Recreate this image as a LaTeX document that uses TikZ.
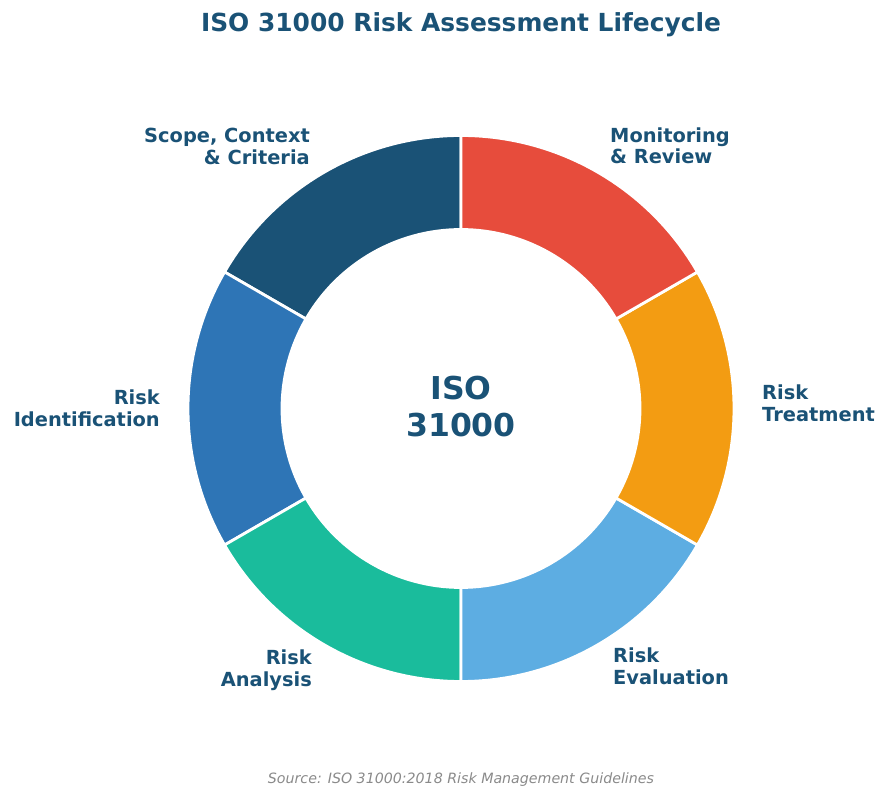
\documentclass[tikz,border=0pt]{standalone}
\usepackage{fontspec}
\setmainfont{DejaVu Sans}[BoldFont={DejaVu Sans Bold},ItalicFont={DejaVu Sans Oblique}]
\definecolor{tdark}{HTML}{1A5276}
\definecolor{sdark}{HTML}{1A5276}
\definecolor{sred}{HTML}{E74C3C}
\definecolor{sorange}{HTML}{F39C12}
\definecolor{slight}{HTML}{5DADE2}
\definecolor{sgreen}{HTML}{1ABC9C}
\definecolor{sblue}{HTML}{2E75B6}
\definecolor{srcgray}{HTML}{8A8A8A}
\tikzset{
  seg/.style={draw=white, line width=2.8pt},
  lbl/.style={inner sep=0pt, text=tdark, font=\fontsize{19.4}{22}\selectfont\bfseries},
  ctr/.style={inner sep=0pt, text=tdark, font=\fontsize{31.5}{36}\selectfont\bfseries},
}
\newcommand{\ringseg}[3]{%
  \filldraw[seg, fill=#3] (#1:273pt) arc[start angle=#1, end angle=#2, radius=273pt]
    -- (#2:179pt) arc[start angle=#2, end angle=#1, radius=179pt] -- cycle;}
\begin{document}
\begin{tikzpicture}[x=1pt,y=1pt]
\useasboundingbox (0,0) rectangle (887,800);
\begin{scope}[shift={(461,391.5)}]
  \ringseg{90}{150}{sdark}
  \ringseg{150}{210}{sblue}
  \ringseg{210}{270}{sgreen}
  \ringseg{270}{330}{slight}
  \ringseg{-30}{30}{sorange}
  \ringseg{30}{90}{sred}
\end{scope}
\node[inner sep=0pt, text=tdark, font=\fontsize{24.9}{30}\selectfont\bfseries, anchor=base] (title) at (461,768) {ISO 31000 Risk Assessment Lifecycle};
\node[ctr, anchor=base] (c1) at (461,400) {ISO};
\node[ctr, anchor=base] (c2) at (461,363) {31000};
\node[lbl, anchor=base east] (s1) at (310,657) {Scope, Context};
\node[lbl, anchor=base east] (s2) at (310,635) {\& Criteria};
\node[lbl, anchor=base west] (m1) at (610,657) {Monitoring};
\node[lbl, anchor=base west] (m2) at (610,636) {\& Review};
\node[lbl, anchor=base east] (i1) at (160,395) {Risk};
\node[lbl, anchor=base east] (i2) at (160,373) {Identification};
\node[lbl, anchor=base west] (t1) at (762,400) {Risk};
\node[lbl, anchor=base west] (t2) at (762,378) {Treatment};
\node[lbl, anchor=base east] (a1) at (312,135) {Risk};
\node[lbl, anchor=base east] (a2) at (312,113) {Analysis};
\node[lbl, anchor=base west] (e1) at (613,137) {Risk};
\node[lbl, anchor=base west] (e2) at (613,115) {Evaluation};
\node[inner sep=0pt, text=srcgray, font=\fontsize{14.2}{16}\selectfont\itshape, anchor=base] (src) at (461,16) {Source: ISO 31000:2018 Risk Management Guidelines};
\end{tikzpicture}
\end{document}
